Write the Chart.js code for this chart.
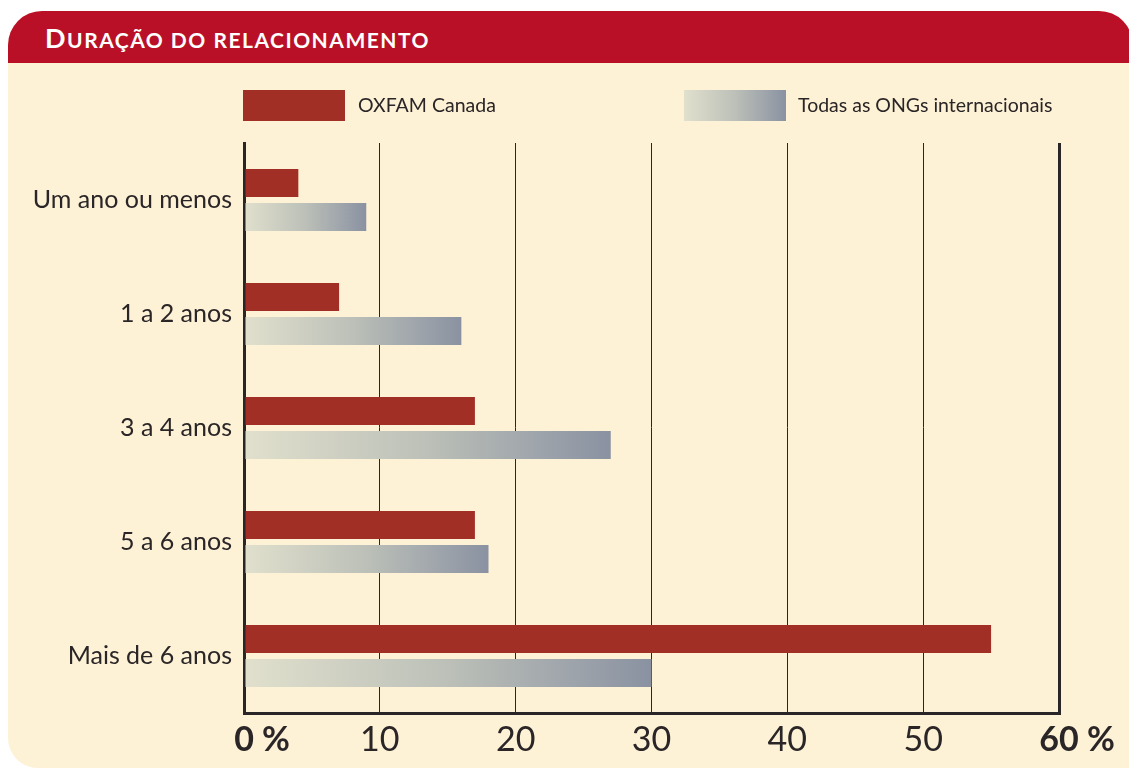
<!DOCTYPE html>
<html><head><meta charset="utf-8">
<script src="https://cdn.jsdelivr.net/npm/chart.js@4.4.1/dist/chart.umd.min.js"></script>
<style>
html,body{margin:0;padding:0;background:#fff;width:1129px;height:769px;overflow:hidden;}
#panel{position:absolute;left:8px;top:11px;width:1125px;height:757px;background:#fdf1d6;border-radius:34px 34px 0 30px;overflow:hidden;}
#bar{position:absolute;left:0;top:0;width:100%;height:52px;background:#b91027;}
#title{position:absolute;left:37px;top:12px;color:#fff;font-family:Lato,sans-serif;font-weight:bold;letter-spacing:1.5px;line-height:30px;white-space:nowrap;}
#title .big{font-size:27px;}
#title .sc{font-size:21px;}
#wrap{position:absolute;left:0;top:0;width:1129px;height:769px;}
</style></head>
<body>
<div id="panel"><div id="bar"><div id="title"><span class="big">D</span><span class="sc">URAÇÃO DO RELACIONAMENTO</span></div></div></div>
<div id="wrap"><canvas id="c" width="1129" height="769"></canvas></div>
<script>
const categories = ["Um ano ou menos", "1 a 2 anos", "3 a 4 anos", "5 a 6 anos", "Mais de 6 anos"];
const seriesNames = ["OXFAM Canada", "Todas as ONGs internacionais"];
const oxfamValues = [4, 7, 17, 17, 55];
const allNgoValues = [9, 16, 27, 18, 30];
const axisMin = 0, axisMax = 60, axisStep = 10;

const INK = '#2a2526';
const RED = '#a12f26';
const GRAD_A = '#e1e0cd', GRAD_B = '#8a92a2';

function grayGradient(ctx2d, x0, x1) {
  const g = ctx2d.createLinearGradient(x0, 0, x1, 0);
  g.addColorStop(0, GRAD_A);
  g.addColorStop(0.5, '#bcc0b8');
  g.addColorStop(1, GRAD_B);
  return g;
}

const percentPlugin = {
  id: 'percent',
  afterDraw(chart) {
    const s = chart.scales.x;
    const items = s.getLabelItems();
    const c = chart.ctx;
    c.save();
    items.forEach((it, i) => {
      const v = s.ticks[i] && s.ticks[i].value;
      if (v === axisMin || v === axisMax) {
        c.font = 'bold 34px Lato';
        c.fillStyle = INK;
        c.textBaseline = it.options.textBaseline;
        c.textAlign = 'left';
        const w = c.measureText(String(v)).width;
        const [tx, ty] = it.options.translation;
        const off = (typeof it.textOffset === 'number') ? it.textOffset : 0;
        c.fillText(' %', tx + w / 2, ty + off);
      }
    });
    c.restore();
  }
};

const legendPlugin = {
  id: 'customLegend',
  afterDraw(chart) {
    const c = chart.ctx;
    c.save();
    c.fillStyle = RED;
    c.fillRect(243, 90, 102, 31);
    c.fillStyle = grayGradient(c, 684, 786);
    c.fillRect(684, 90, 102, 31);
    c.fillStyle = INK;
    c.font = '19.5px Lato';
    c.textBaseline = 'middle';
    c.textAlign = 'left';
    c.fillText(seriesNames[0], 358, 106);
    c.fillText(seriesNames[1], 798, 106);
    c.restore();
  }
};

new Chart(document.getElementById('c'), {
  type: 'bar',
  data: {
    labels: categories,
    datasets: [
      { label: seriesNames[0], data: oxfamValues, backgroundColor: RED,
        barPercentage: 0.8235, categoryPercentage: 0.596 },
      { label: seriesNames[1], data: allNgoValues,
        backgroundColor: (ctx) => {
          const x = ctx.chart.scales && ctx.chart.scales.x;
          if (!x || typeof ctx.raw !== 'number') return '#bcc0b8';
          const x0 = x.getPixelForValue(0), x1 = x.getPixelForValue(ctx.raw);
          if (!isFinite(x0) || !isFinite(x1) || x1 <= x0) return '#bcc0b8';
          return grayGradient(ctx.chart.ctx, x0, x1);
        },
        barPercentage: 0.8235, categoryPercentage: 0.596 }
    ]
  },
  options: {
    indexAxis: 'y',
    responsive: false,
    animation: false,
    layout: { padding: { top: 143, right: 70, left: 0, bottom: 0 } },
    plugins: { legend: { display: false }, tooltip: { enabled: false } },
    scales: {
      x: {
        min: axisMin, max: axisMax,
        ticks: { stepSize: axisStep, color: INK, padding: 7,
          font: (ctx) => ({ family: 'Lato', size: 34,
            weight: (ctx.tick && (ctx.tick.value === axisMin || ctx.tick.value === axisMax)) ? 'bold' : 'normal' }) },
        grid: { color: INK, drawTicks: false,
          lineWidth: (ctx) => (ctx.tick && (ctx.tick.value === axisMin || ctx.tick.value === axisMax)) ? 3 : 1 },
        border: { color: INK, width: 3 },
        afterFit(scale) { scale.height = 56; }
      },
      y: {
        ticks: { color: INK, padding: 12, font: { family: 'Lato', size: 25 } },
        grid: { display: false, drawTicks: false },
        border: { color: INK, width: 3 },
        afterFit(scale) { scale.width = 244; }
      }
    }
  },
  plugins: [percentPlugin, legendPlugin]
});
</script>
</body></html>
